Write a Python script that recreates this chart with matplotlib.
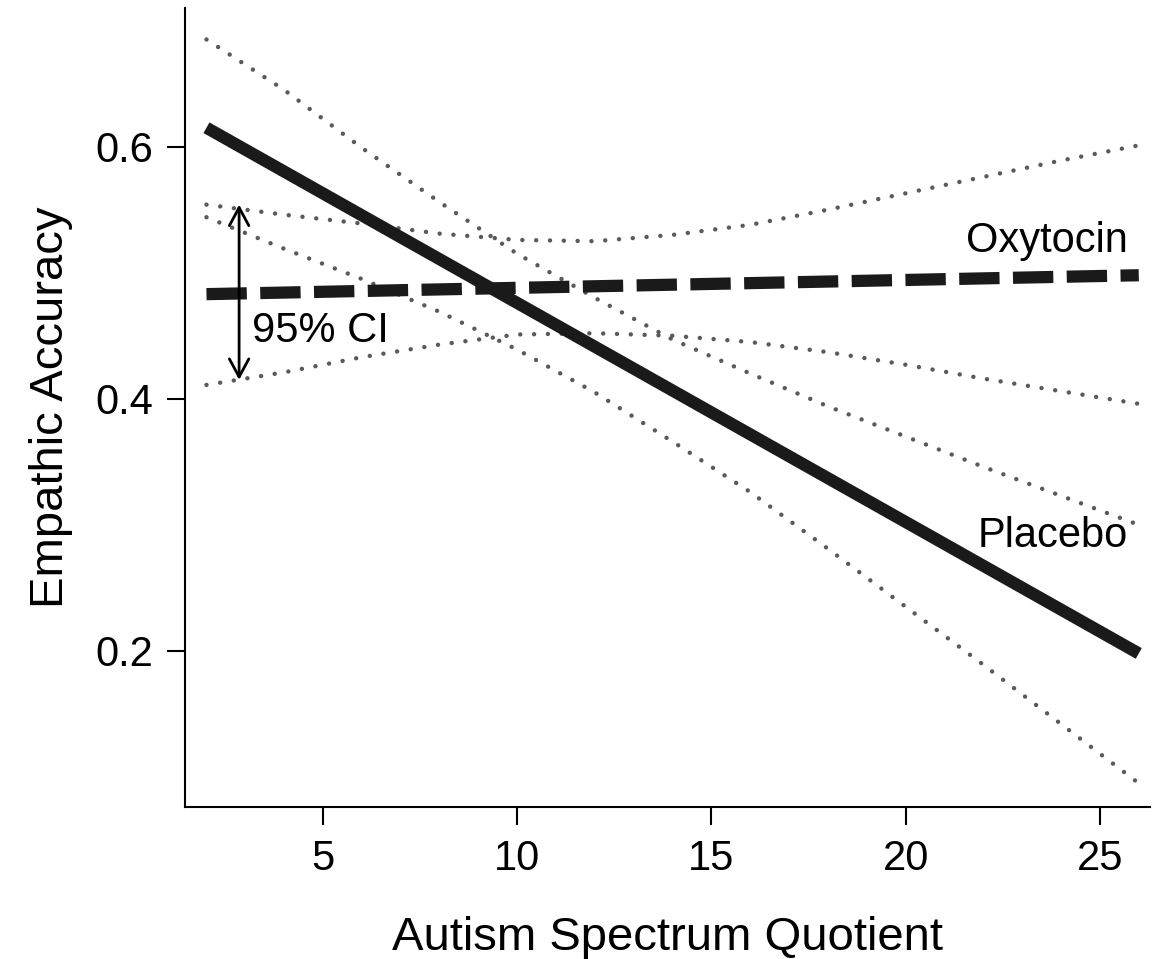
import matplotlib
matplotlib.use("Agg")
import matplotlib.pyplot as plt

plt.rcParams["font.family"] = ["Liberation Sans", "DejaVu Sans"]

# Fitted lines (end points)
fit_x = [2, 26]
placebo_fit = [0.615, 0.198]
oxytocin_fit = [0.483, 0.498]

# 95% confidence bands
ci_x = [2, 4, 6, 8, 10, 12, 14, 16, 18, 20, 22, 24, 26]
placebo_hi = [0.685, 0.645, 0.599, 0.556, 0.515, 0.480, 0.447, 0.420, 0.394, 0.370, 0.346, 0.323, 0.300]
placebo_lo = [0.544, 0.519, 0.495, 0.469, 0.439, 0.405, 0.366, 0.326, 0.281, 0.235, 0.189, 0.142, 0.095]
oxytocin_hi = [0.554, 0.546, 0.539, 0.531, 0.526, 0.525, 0.530, 0.538, 0.550, 0.563, 0.576, 0.589, 0.601]
oxytocin_lo = [0.411, 0.421, 0.433, 0.443, 0.451, 0.452, 0.450, 0.445, 0.437, 0.427, 0.416, 0.406, 0.396]

x_ticks = [5, 10, 15, 20, 25]
y_ticks = [0.2, 0.4, 0.6]

fig = plt.figure(figsize=(11.55, 9.59), dpi=100)
ax = fig.add_axes([0.1602, 0.1585, 0.8355, 0.8332])

line_col = "#1a1a1a"
dot_col = "#5a5a5a"

# confidence bands as dotted lines
for band in [placebo_hi, placebo_lo, oxytocin_hi, oxytocin_lo]:
    ax.plot(ci_x, band, color=dot_col, lw=3.2, linestyle=(0, (0.01, 3.1)),
            dash_capstyle="round", solid_capstyle="round")

# fitted lines
ax.plot(fit_x, placebo_fit, color=line_col, lw=8.8, solid_capstyle="butt")
ax.plot(fit_x, oxytocin_fit, color=line_col, lw=8.8, linestyle=(0, (3.3, 1.1)),
        dash_capstyle="butt")

# CI arrow + labels
ax.annotate("", xy=(2.84, 0.554), xytext=(2.84, 0.415),
            arrowprops=dict(arrowstyle="<->,head_length=0.65,head_width=0.35",
                            mutation_scale=20, lw=2, color="black",
                            shrinkA=0, shrinkB=0))
ax.text(3.17, 0.4452, "95% CI", fontsize=30, ha="left", va="baseline")
ax.text(25.72, 0.5167, "Oxytocin", fontsize=30, ha="right", va="baseline")
ax.text(25.72, 0.2825, "Placebo", fontsize=30, ha="right", va="baseline")

ax.set_xlim(1.448, 26.29)
ax.set_ylim(0.0762, 0.710)
ax.set_xticks(x_ticks)
ax.set_yticks(y_ticks)
ax.set_yticklabels([str(v) for v in y_ticks])

ax.spines["top"].set_visible(False)
ax.spines["right"].set_visible(False)
for s in ["left", "bottom"]:
    ax.spines[s].set_linewidth(1.5)
ax.tick_params(direction="out", length=13, width=1.5, labelsize=30, pad=10)

ax.set_xlabel("Autism Spectrum Quotient", fontsize=34, labelpad=27)
ax.set_ylabel("Empathic Accuracy", fontsize=34, labelpad=16)

fig.savefig("out.png", dpi=100)
